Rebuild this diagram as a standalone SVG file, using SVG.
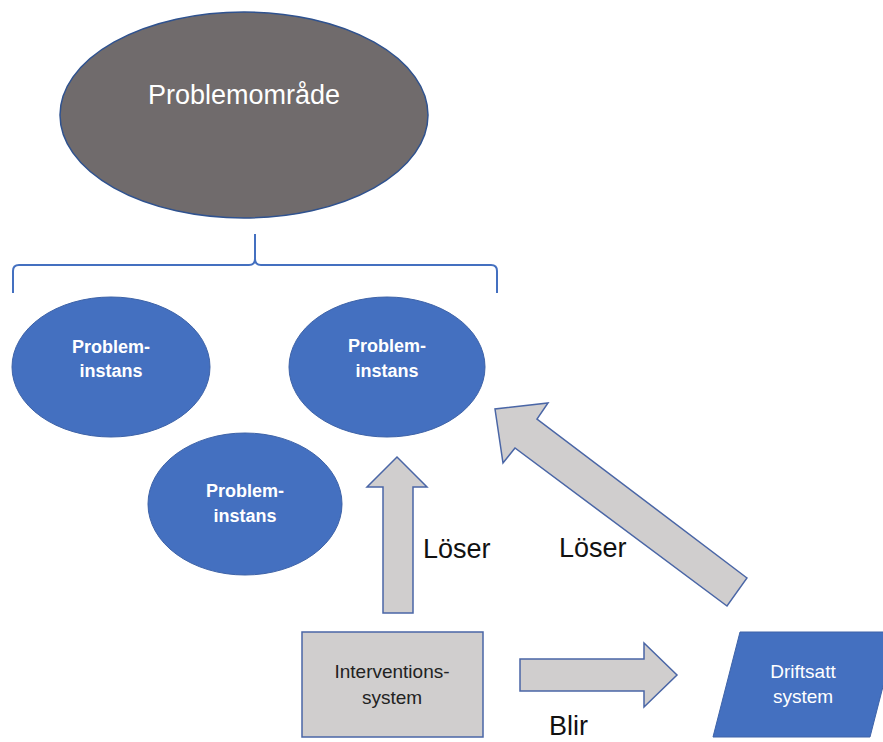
<svg xmlns="http://www.w3.org/2000/svg" width="883" height="742" viewBox="0 0 883 742">
<style>
.blue{fill:#4470c0;stroke:#3e63a8;stroke-width:1}
.arrow{fill:#d0cece;stroke:#4a66a6;stroke-width:1.5;stroke-linejoin:miter}
.t{font-family:"Liberation Sans",Arial,sans-serif;text-anchor:middle}
.w{fill:#ffffff}
.inst{font-size:18px;font-weight:bold}
.lbl{font-family:"Liberation Sans",Arial,sans-serif;font-size:27px;fill:#111}
</style>
<rect width="883" height="742" fill="#ffffff"/>
<g id="problemomrade">
<ellipse cx="244" cy="115" rx="184" ry="103" fill="#706b6c" stroke="#2f528f" stroke-width="1.5"/>
<text class="t w" x="244" y="104" font-size="27">Problemområde</text>
</g>
<g id="brace">
<path d="M13,293 V271 Q13,265 19,265 H249 Q255,265 255,259 V234 M255,259 Q255,265 261,265 H491 Q497,265 497,271 V293" fill="none" stroke="#4470c0" stroke-width="2"/>
</g>
<g id="instans1">
<ellipse class="blue" cx="111" cy="367" rx="99" ry="70"/>
<text class="t w inst" x="111" y="353">Problem-</text>
<text class="t w inst" x="111" y="377">instans</text>
</g>
<g id="instans2">
<ellipse class="blue" cx="387" cy="367" rx="98" ry="70"/>
<text class="t w inst" x="387" y="352">Problem-</text>
<text class="t w inst" x="387" y="377">instans</text>
</g>
<g id="instans3">
<ellipse class="blue" cx="245" cy="504" rx="97" ry="71"/>
<text class="t w inst" x="245" y="497">Problem-</text>
<text class="t w inst" x="245" y="522">instans</text>
</g>
<g id="interventionssystem">
<rect x="302" y="632" width="181" height="105" fill="#d0cece" stroke="#4a66a6" stroke-width="1.5"/>
<text class="t" x="392" y="678" font-size="19" fill="#222">Interventions-</text>
<text class="t" x="392" y="704" font-size="19" fill="#222">system</text>
</g>
<g id="driftsatt">
<polygon points="740,632 897,632 870,737 713,737" fill="#4470c0" stroke="#3e63a8" stroke-width="1"/>
<text class="t w" x="803" y="678" font-size="19">Driftsatt</text>
<text class="t w" x="803" y="703" font-size="19">system</text>
</g>
<g id="connectors">
<polygon class="arrow" points="383,613 383,487 367,487 397,457 427,487 413,487 413,613"/>
<polygon class="arrow" points="747,578 537,419 548,403 495,409 503,463 515,448 727,606"/>
<polygon class="arrow" points="520,659 644,659 644,643 677,675 644,707 644,691 520,691"/>
<text class="lbl" x="423" y="558">Löser</text>
<text class="lbl" x="559" y="557">Löser</text>
<text class="lbl" x="549" y="735" font-size="28">Blir</text>
</g>
</svg>
